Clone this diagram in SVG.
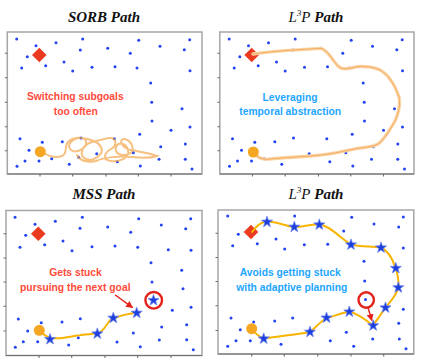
<svg xmlns="http://www.w3.org/2000/svg" xmlns:xlink="http://www.w3.org/1999/xlink" width="423" height="364" viewBox="0 0 423 364">
<style>
.frame{fill:#fff;stroke:#a6a6a6;stroke-width:1.5}
.axis{stroke:#6e6e6e;stroke-width:1.1;fill:none}
.d{fill:#2443f2}
.title{font-family:"Liberation Serif",serif;font-size:15px;font-weight:bold;font-style:italic;fill:#111;text-anchor:middle}
.math{font-weight:normal}
.lbl{font-family:"Liberation Sans",Arial,sans-serif;font-size:10.3px;font-weight:bold;text-anchor:middle}
.red{fill:#ff4b3b}
.blue{fill:#1ea6ff}
.goal{fill:#ea3a1f}
.start{fill:#f5a623}
.gold{fill:none;stroke:#f7b400;stroke-width:2;stroke-linecap:round;stroke-linejoin:round}
.ring{fill:none;stroke:#e3221b;stroke-width:2.4}
.arrow{stroke:#e3221b;stroke-width:1.4;fill:none}
</style>
<defs>
<path id="star" d="M0,-5.8 L1.36,-1.88 L5.52,-1.79 L2.2,0.72 L3.41,4.69 L0,2.32 L-3.41,4.69 L-2.2,0.72 L-5.52,-1.79 L-1.36,-1.88Z" fill="#1d3fdc" stroke="#6d84ee" stroke-width="0.8"/>
<path id="diamond" d="M0,-7.3 L7.3,0 L0,7.3 L-7.3,0Z"/>
<marker id="ah" viewBox="0 0 10 10" refX="9" refY="5" markerWidth="5" markerHeight="5" orient="auto" markerUnits="strokeWidth">
<path d="M0,0 L10,5 L0,10Z" fill="#e3221b"/>
</marker>
<g id="dots1">
<circle class="d" cx="16.7" cy="39" r="1.5"/><circle class="d" cx="36" cy="45.7" r="1.5"/><circle class="d" cx="56" cy="42.7" r="1.5"/><circle class="d" cx="82.7" cy="39" r="1.5"/><circle class="d" cx="138.7" cy="40.3" r="1.5"/><circle class="d" cx="160" cy="46.3" r="1.5"/><circle class="d" cx="189.7" cy="39.7" r="1.5"/><circle class="d" cx="27.3" cy="56.7" r="1.5"/><circle class="d" cx="80.3" cy="50" r="1.5"/><circle class="d" cx="107.7" cy="48.3" r="1.5"/><circle class="d" cx="130.3" cy="53.3" r="1.5"/><circle class="d" cx="184.3" cy="49.7" r="1.5"/><circle class="d" cx="45.7" cy="65.7" r="1.5"/><circle class="d" cx="64" cy="62" r="1.5"/><circle class="d" cx="21.7" cy="68" r="1.5"/><circle class="d" cx="72.7" cy="71" r="1.5"/><circle class="d" cx="92" cy="67.3" r="1.5"/><circle class="d" cx="115" cy="66.7" r="1.5"/><circle class="d" cx="137" cy="68" r="1.5"/><circle class="d" cx="190" cy="70.7" r="1.5"/><circle class="d" cx="150.7" cy="83" r="1.5"/><circle class="d" cx="151.7" cy="102.3" r="1.5"/><circle class="d" cx="182" cy="108.7" r="1.5"/><circle class="d" cx="152" cy="121" r="1.5"/><circle class="d" cx="190" cy="127" r="1.5"/><circle class="d" cx="171" cy="130.3" r="1.5"/><circle class="d" cx="139.7" cy="134.3" r="1.5"/><circle class="d" cx="20" cy="138.7" r="1.5"/><circle class="d" cx="42.3" cy="142.3" r="1.5"/><circle class="d" cx="62.3" cy="141.7" r="1.5"/><circle class="d" cx="81" cy="138" r="1.5"/><circle class="d" cx="114.3" cy="138.7" r="1.5"/><circle class="d" cx="160.7" cy="146.7" r="1.5"/><circle class="d" cx="185.3" cy="144" r="1.5"/><circle class="d" cx="29" cy="150.3" r="1.5"/><circle class="d" cx="96.7" cy="153.7" r="1.5"/><circle class="d" cx="78.7" cy="157.3" r="1.5"/><circle class="d" cx="133.3" cy="152.7" r="1.5"/><circle class="d" cx="159" cy="159.3" r="1.5"/><circle class="d" cx="185.3" cy="159.3" r="1.5"/><circle class="d" cx="25" cy="161" r="1.5"/><circle class="d" cx="39" cy="161" r="1.5"/><circle class="d" cx="51.7" cy="158.7" r="1.5"/><circle class="d" cx="69.3" cy="164.3" r="1.5"/><circle class="d" cx="117.3" cy="161.7" r="1.5"/><circle class="d" cx="140.3" cy="166" r="1.5"/><circle class="d" cx="17" cy="166.3" r="1.5"/><circle class="d" cx="192" cy="169" r="1.5"/>
</g>
</defs>

<!-- Panel 1: SORB -->
<g id="panel-sorb">
<text class="title" x="104" y="21.7">SORB Path</text>
<rect class="frame" x="7.3" y="32" width="194.7" height="142"/>
<path class="axis" d="M7.3,174 H202 M4.8,53.3 H7.3 M4.8,77.7 H7.3 M4.8,102.3 H7.3 M4.8,126.7 H7.3 M4.8,150.7 H7.3 M40,174 V176.5 M72.7,174 V176.5 M106,174 V176.5 M138.3,174 V176.5 M171,174 V176.5"/>
<use href="#dots1"/>
<use href="#diamond" class="goal" x="39.3" y="55"/>
<path id="sorb-path" d="M44,153 C50,157 56,158 62,156 C68,154 64,146 68,142 C73,137 84,136 86,141 C88,148 76,154 71,150 C65,145 74,137 81,138 C90,139 98,141 101,147 C105,155 92,162 86,159 C78,155 82,145 92,142 C100,140 104,139 109,138 C116,137 118,145 111,149 C104,153 102,160 111,161 C120,162 130,158 128,150 C126,142 118,142 116,147 C114,153 121,157 129,154 C136,151 132,141 125,139 C118,138 121,148 131,150 C141,152 150,153 157,156 C151,158 140,158 132,157 C120,156 104,157 96,161 C88,163 80,161 77,155" fill="none" stroke="#f2a54a" stroke-width="2" stroke-opacity="0.7" stroke-linecap="round"/>
<circle class="start" cx="40.3" cy="151.7" r="5.5"/>
<text class="lbl red" x="75.3" y="100">Switching subgoals</text>
<text class="lbl red" x="75.8" y="115">too often</text>
</g>

<!-- Panel 2: L3P temporal -->
<g id="panel-l3p-top">
<text class="title" x="316" y="21.7"><tspan class="math">L</tspan><tspan class="math" font-size="9" dy="-6">3</tspan><tspan class="math" dy="6">P</tspan> Path</text>
<rect class="frame" x="219.8" y="32" width="194.2" height="142"/>
<path class="axis" d="M219.8,174 H414 M217.3,53.3 H219.8 M217.3,77.7 H219.8 M217.3,102.3 H219.8 M217.3,126.7 H219.8 M217.3,150.7 H219.8 M252.5,174 V176.5 M285.2,174 V176.5 M318.5,174 V176.5 M350.8,174 V176.5 M383.5,174 V176.5"/>
<use href="#dots1" transform="translate(212.5,0)"/>
<use href="#diamond" class="goal" x="251.7" y="55"/>
<g id="l3p-path-top" fill="none" stroke-linecap="round" stroke-linejoin="round">
<path d="M253,54 C265,52 290,50 321,48.3 C328,50 332,60 338,66 C343,71 350,68 357.7,66.7 C365,66 376,67 382.7,71.7 C390,77 396,88 399,97 C401,106 397,118 393.7,123.3 C390,130 386,136 381,141.7 C377,146 370,147 357.7,148.3 C348,150 335,154 311,156 C295,157 280,158 266,159.3 C260,159 256,156 253.3,152" stroke="#fbd4a6" stroke-width="3.3"/>
<path d="M253,54 C265,52 290,50 321,48.3 C328,50 332,60 338,66 C343,71 350,68 357.7,66.7 C365,66 376,67 382.7,71.7 C390,77 396,88 399,97 C401,106 397,118 393.7,123.3 C390,130 386,136 381,141.7 C377,146 370,147 357.7,148.3 C348,150 335,154 311,156 C295,157 280,158 266,159.3 C260,159 256,156 253.3,152" stroke="#f3ad5e" stroke-width="1"/>
</g>
<circle class="start" cx="253.3" cy="152" r="5.5"/>
<text class="lbl blue" x="290" y="100.5">Leveraging</text>
<text class="lbl blue" x="290.2" y="114.7">temporal abstraction</text>
</g>

<!-- Panel 3: MSS -->
<g id="panel-mss">
<text class="title" x="104" y="199.3">MSS Path</text>
<rect class="frame" x="6" y="210.5" width="196" height="145"/>
<path class="axis" d="M6,355.5 H202 M3.5,233.7 H6 M3.5,258 H6 M3.5,282 H6 M3.5,306.3 H6 M3.5,331 H6 M39,355.5 V358 M71.7,355.5 V358 M105,355.5 V358 M137.7,355.5 V358 M171,355.5 V358"/>
<g id="dots3">
<circle class="d" cx="15" cy="217.3" r="1.5"/><circle class="d" cx="35" cy="224.3" r="1.5"/><circle class="d" cx="55.3" cy="221.3" r="1.5"/><circle class="d" cx="82.3" cy="217.3" r="1.5"/><circle class="d" cx="138.7" cy="218.7" r="1.5"/><circle class="d" cx="161.3" cy="225" r="1.5"/><circle class="d" cx="190.7" cy="218.7" r="1.5"/><circle class="d" cx="25.7" cy="235.3" r="1.5"/><circle class="d" cx="80" cy="228.3" r="1.5"/><circle class="d" cx="107.7" cy="227" r="1.5"/><circle class="d" cx="130.7" cy="232.3" r="1.5"/><circle class="d" cx="185.7" cy="228.7" r="1.5"/><circle class="d" cx="44.7" cy="244.7" r="1.5"/><circle class="d" cx="63" cy="241" r="1.5"/><circle class="d" cx="20" cy="247.3" r="1.5"/><circle class="d" cx="72" cy="250.7" r="1.5"/><circle class="d" cx="92" cy="246.7" r="1.5"/><circle class="d" cx="115" cy="246" r="1.5"/><circle class="d" cx="137.7" cy="247.3" r="1.5"/><circle class="d" cx="168.3" cy="249.7" r="1.5"/><circle class="d" cx="191" cy="250.3" r="1.5"/><circle class="d" cx="151" cy="262.7" r="1.5"/><circle class="d" cx="181.7" cy="270.3" r="1.5"/><circle class="d" cx="152" cy="282" r="1.5"/><circle class="d" cx="183" cy="288.7" r="1.5"/><circle class="d" cx="191" cy="307.3" r="1.5"/><circle class="d" cx="172.3" cy="310.3" r="1.5"/><circle class="d" cx="18.3" cy="319" r="1.5"/><circle class="d" cx="41.3" cy="322.7" r="1.5"/><circle class="d" cx="62" cy="322" r="1.5"/><circle class="d" cx="80.3" cy="318.7" r="1.5"/><circle class="d" cx="161.7" cy="327" r="1.5"/><circle class="d" cx="186.7" cy="324.7" r="1.5"/><circle class="d" cx="27.7" cy="331" r="1.5"/><circle class="d" cx="78.3" cy="337.7" r="1.5"/><circle class="d" cx="133.3" cy="333" r="1.5"/><circle class="d" cx="159.3" cy="340" r="1.5"/><circle class="d" cx="186.7" cy="339.7" r="1.5"/><circle class="d" cx="23.3" cy="341.7" r="1.5"/><circle class="d" cx="37.7" cy="341.7" r="1.5"/><circle class="d" cx="68.7" cy="345" r="1.5"/><circle class="d" cx="117" cy="342" r="1.5"/><circle class="d" cx="140.3" cy="346.7" r="1.5"/><circle class="d" cx="15.3" cy="347.3" r="1.5"/><circle class="d" cx="193.3" cy="349.7" r="1.5"/>
</g>
<use href="#diamond" class="goal" x="38.3" y="233.7"/>
<path class="gold" d="M39.3,330.3 C43,334 46,337 50,338 C56,339 62,338 66.7,337.3 C72,336.5 76,335.5 80,335.3 C86,334.5 92,334 97,333.5 C103,332.5 106,325 110,320.3 C112,318.5 114,318 115,318 C118,317 121,315.5 124,315 C129,314 133,313 137,312.8 L140,312.5"/>
<use href="#star" x="50" y="339.3"/>
<use href="#star" x="97.3" y="333.7"/>
<use href="#star" x="113.3" y="318"/>
<use href="#star" x="136.7" y="313"/>
<circle class="start" cx="39.3" cy="330.3" r="5.5"/>
<use href="#star" x="153.5" y="300.3"/>
<circle class="ring" cx="153.7" cy="300.3" r="8.3"/>
<text class="lbl red" x="75.5" y="276.3">Gets stuck</text>
<text class="lbl red" x="75.3" y="291.3">pursuing the next goal</text>
</g>

<!-- Panel 4: L3P adaptive -->
<g id="panel-l3p-bottom">
<text class="title" x="316" y="199.3"><tspan class="math">L</tspan><tspan class="math" font-size="9" dy="-6">3</tspan><tspan class="math" dy="6">P</tspan> Path</text>
<rect class="frame" x="218" y="210" width="195.8" height="144"/>
<path class="axis" d="M218,354 H413.8 M215.5,233.2 H218 M215.5,257.5 H218 M215.5,281.5 H218 M215.5,305.8 H218 M215.5,330.5 H218 M251.7,354 V356.5 M284.3,354 V356.5 M317.7,354 V356.5 M351,354 V356.5 M383.7,354 V356.5"/>
<g id="dots4">
<circle class="d" cx="227.7" cy="216" r="1.5"/><circle class="d" cx="294.7" cy="216" r="1.5"/><circle class="d" cx="351.7" cy="217.3" r="1.5"/><circle class="d" cx="374" cy="224" r="1.5"/><circle class="d" cx="403.3" cy="217" r="1.5"/><circle class="d" cx="398.7" cy="227" r="1.5"/><circle class="d" cx="238.3" cy="234.3" r="1.5"/><circle class="d" cx="276" cy="239" r="1.5"/><circle class="d" cx="257.3" cy="243.7" r="1.5"/><circle class="d" cx="232.7" cy="245.7" r="1.5"/><circle class="d" cx="284.7" cy="249" r="1.5"/><circle class="d" cx="304.3" cy="244.7" r="1.5"/><circle class="d" cx="327.7" cy="244.3" r="1.5"/><circle class="d" cx="343.7" cy="231" r="1.5"/><circle class="d" cx="403.3" cy="248" r="1.5"/><circle class="d" cx="364" cy="261.3" r="1.5"/><circle class="d" cx="364.7" cy="281" r="1.5"/><circle class="d" cx="365.5" cy="299.5" r="1.5"/><circle class="d" cx="403.3" cy="309.3" r="1.5"/><circle class="d" cx="231" cy="318" r="1.5"/><circle class="d" cx="253.7" cy="322" r="1.5"/><circle class="d" cx="274.7" cy="321" r="1.5"/><circle class="d" cx="292.7" cy="318" r="1.5"/><circle class="d" cx="398.7" cy="323.3" r="1.5"/><circle class="d" cx="240.3" cy="329.7" r="1.5"/><circle class="d" cx="346.3" cy="332.3" r="1.5"/><circle class="d" cx="372.7" cy="339" r="1.5"/><circle class="d" cx="399.3" cy="339" r="1.5"/><circle class="d" cx="236" cy="340.7" r="1.5"/><circle class="d" cx="250.3" cy="340.7" r="1.5"/><circle class="d" cx="281" cy="344.3" r="1.5"/><circle class="d" cx="330.3" cy="340.7" r="1.5"/><circle class="d" cx="353.7" cy="346.3" r="1.5"/><circle class="d" cx="227.7" cy="346.3" r="1.5"/><circle class="d" cx="406" cy="348.7" r="1.5"/>
</g>
<use href="#diamond" class="goal" x="251" y="232"/>
<path class="gold" d="M252,232 C256,227 260,222 267,221.5 C275,221 285,226 294.3,227 C302,227.5 310,224 319.3,224.5 C330,225.5 340,238 351,244.5 C360,247 371,246 381,247.5 C389,251 393,260 395.5,268 C398,275 399,282 398.3,288 C396,296 390,302 385.5,307.7 C381,314 377,320 373,325.5 C366,320 357,313 349.3,311.8 C340,313 333,317 326.5,318 C320,322 315,328 310,332 C300,334 280,336 263.7,338.5 C258,336 254,332 251.7,328.7"/>
<use href="#star" x="267" y="222"/>
<use href="#star" x="294.3" y="227"/>
<use href="#star" x="319.3" y="224.7"/>
<use href="#star" x="351" y="244.7"/>
<use href="#star" x="381" y="247.7"/>
<use href="#star" x="395.8" y="268.2"/>
<use href="#star" x="398.3" y="287.6"/>
<use href="#star" x="385.5" y="307.7"/>
<use href="#star" x="373.2" y="325.6"/>
<use href="#star" x="349.3" y="311.8"/>
<use href="#star" x="326.5" y="317.8"/>
<use href="#star" x="310" y="332"/>
<use href="#star" x="263.7" y="338.7"/>
<circle class="start" cx="251.7" cy="328.7" r="5.5"/>
<circle class="ring" cx="366.2" cy="300" r="7.7"/>
<text class="lbl blue" x="290.2" y="276">Avoids getting stuck</text>
<text class="lbl blue" x="291.8" y="291.3">with adaptive planning</text>
</g>

<g id="connectors">
<line class="arrow" x1="115" y1="294.7" x2="132.5" y2="307.6" marker-end="url(#ah)"/>
<line class="arrow" x1="368" y1="307.5" x2="371.8" y2="320.5" marker-end="url(#ah)"/>
</g>
</svg>
